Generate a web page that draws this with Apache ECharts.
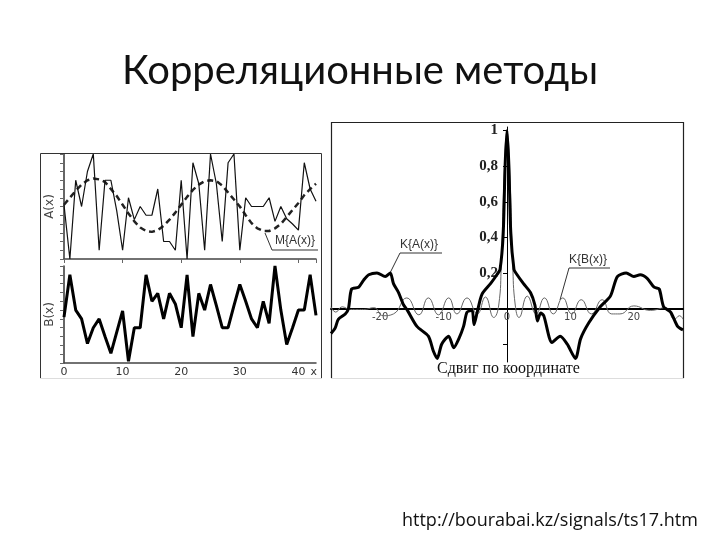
<!DOCTYPE html>
<html>
<head>
<meta charset="utf-8">
<script src="https://cdn.jsdelivr.net/npm/echarts@6/dist/echarts.min.js"></script>
<style>
  html, body { margin: 0; background: #fff; }
  #chart { width: 720px; height: 540px; }
</style>
</head>
<body>
<div id="chart"></div>
<script>
  // left panel: coordinate x, signal A, its trend M{A}, signal B
  const coordX = [0, 1, 2, 3, 4, 5, 6, 7, 8, 9, 10, 11, 12, 13, 14, 15, 16, 17, 18, 19, 20, 21,
    22, 23, 24, 25, 26, 27, 28, 29, 30, 31, 32, 33, 34, 35, 36, 37, 38, 39, 40, 41, 42, 43];
  const signalA = [6.2, 0, 9, 6, 10, 12, 1, 9, 9, 5.5, 1, 7, 4.5, 6, 5, 5, 8, 2, 2, 1, 9, 0,
    11, 8.6, 1, 12, 8.6, 2, 11, 12, 1, 7, 6, 6, 6, 7, 4.3, 6, 4.6, 4, 3.3, 11, 8, 6.6];
  const trendA = [6.2, 7.0, 7.8, 8.5, 9.0, 9.2, 9.1, 8.8, 8.0, 7.2, 6.2, 5.2, 4.3, 3.6, 3.2, 3.1, 3.3, 3.8, 4.5, 5.3, 6.2, 7.1,
    7.9, 8.5, 8.9, 9.0, 8.9, 8.4, 7.6, 6.8, 6.0, 5.0, 4.1, 3.5, 3.2, 3.2, 3.5, 4.0, 4.8, 5.6, 6.4, 7.3, 8.0, 8.6];
  const signalB = [5.2, 10, 6, 5, 2.2, 4, 5, 3, 1.1, 3.5, 5.9, 0.2, 4, 4, 10, 7, 7.9, 5, 7.9, 6.7, 4, 10,
    3, 7.9, 6, 8.9, 6.5, 4, 4, 6.5, 8.9, 7, 5, 4, 7, 4.5, 11, 6, 2.1, 4, 6, 6, 10, 5.4];
  const coordTicks = [0, 10, 20, 30, 40];

  // right panel: correlation functions vs shift
  const shiftKA = [-27.75, -27.1, -26.6, -25.5, -25, -24.5, -23.4, -22.6, -21.8, -20.5, -19.2, -18.4, -17.9, -17.1,
    -16.3, -15.7, -14.2, -12.4, -11.6, -11, -10.3, -9.2, -8.4, -7.6, -6.85, -6.3, -5.5, -5.2, -4.7, -3.95, -2.6,
    -1.6, -1.1, -0.6, -0.3, 0, 0.3, 0.6, 1.1, 1.4, 2.6, 3.7, 4.4, 4.8, 5.3, 5.8, 7.1, 8.4, 9.5, 10.8, 11.6, 12.9,
    14.7, 16.3, 17.4, 18.8, 20, 21, 22.1, 23.2, 24, 24.7, 25.8, 26.9, 27.75];
  const corrA = [-0.14, -0.11, -0.06, -0.03, 0, 0.11, 0.12, 0.16, 0.19, 0.2, 0.18, 0.2, 0.14, 0.09,
    0.02, -0.01, -0.1, -0.155, -0.24, -0.28, -0.2, -0.155, -0.22, -0.17, -0.1, -0.02, -0.01, -0.09, -0.02, 0.08, 0.14,
    0.19, 0.22, 0.42, 0.8, 1, 0.8, 0.42, 0.22, 0.2, 0.14, 0.09, 0.02, -0.07, -0.025, -0.04, -0.19, -0.155, -0.2, -0.28, -0.17, -0.08,
    0.01, 0.07, 0.18, 0.2, 0.18, 0.19, 0.17, 0.12, 0.11, 0.01, -0.02, -0.1, -0.12];
  const shiftKB = [-27.75, -27, -26, -24.7, -22.6, -21, -19.5, -17.9, -15.8, -13.9, -12.4, -10.8, -9.2, -7.9,
    -6.3, -4.7, -3.4, -2.1, -1.3, -0.9, -0.5, 0, 0.5, 0.9, 1.3, 1.9, 3.2, 4.6, 5.9, 7.3, 8.8, 10.2, 11.7, 13.3,
    15, 16.5, 17.8, 20, 22.6, 25, 26.4, 27.2, 27.75];
  const corrB = [0.01, -0.02, 0.01, -0.005, -0.005, 0.005, -0.04, -0.03, 0.06, -0.035, 0.06, -0.035, 0.06, -0.03,
    0.06, -0.03, 0.065, -0.05, 0.02, 0.25, 0.7, 1, 0.7, 0.25, 0.02, -0.05, 0.07, -0.03, 0.06, -0.03, 0.06, -0.03, 0.05, -0.03,
    0.05, -0.03, -0.03, 0.015, -0.01, 0.005, -0.06, -0.04, -0.06];
  const shiftTicks = [-20, -10, 0, 10, 20];
  const corrLabels = [0.2, 0.4, 0.6, 0.8, 1];
  const corrTicks = [-0.2, 0.2, 0.4, 0.6, 0.8, 1];

  const pairs = (xArr, yArr) => xArr.map((x, i) => [x, yArr[i]]);

  const chart = echarts.init(document.getElementById("chart"));

  const smallAxis = {
    axisLine: { lineStyle: { color: "#333", width: 1.5 } },
    axisTick: { lineStyle: { color: "#666" }, length: 4 },
    splitLine: { show: false },
    axisLabel: { show: false },
  };

  // right panel geometry: axes cross at shift 0 / correlation 0
  const kGrid = { left: 331, top: 127, width: 352, height: 235 };
  const kX = { min: -27.75, max: 27.75 };
  const kY = { min: -0.3, max: 1.02 };
  const yAxisShift = kGrid.width * (0 - kX.min) / (kX.max - kX.min);
  const xAxisShift = kGrid.height * (0 - kY.min) / (kY.max - kY.min);

  chart.setOption({
    animation: false,
    backgroundColor: "#fff",
    title: [
      {
        text: "Корреляционные методы",
        left: "center",
        top: 46,
        textStyle: { fontFamily: "Lato", fontSize: 40, fontWeight: "normal", color: "#111" },
      },
      {
        text: "http://bourabai.kz/signals/ts17.htm",
        left: 397,
        top: 507,
        textStyle: { fontFamily: "Open Sans", fontSize: 18, fontWeight: "normal", color: "#111" },
      },
    ],
    grid: [
      { left: 64, top: 154, width: 252, height: 105 },
      { left: 64, top: 266, width: 252, height: 97 },
      kGrid,
    ],
    xAxis: [
      { gridIndex: 0, type: "value", min: 0, max: 43, interval: 10, ...smallAxis,
        axisLine: { lineStyle: { color: "#444", width: 1.5 } } },
      { gridIndex: 1, type: "value", min: 0, max: 43, interval: 10, ...smallAxis,
        axisLine: { lineStyle: { color: "#444", width: 1.5 } },
        axisTick: { show: false },
        axisLabel: {
          show: true,
          customValues: coordTicks.concat([42.6]),
          formatter: (v) => (v > 41 ? "x" : String(v)),
          color: "#333",
          fontFamily: "DejaVu Sans",
          fontSize: 11,
          margin: 4,
        } },
      { gridIndex: 2, type: "value", min: kX.min, max: kX.max, position: "bottom", offset: -xAxisShift,
        axisLine: { onZero: false, lineStyle: { color: "#000", width: 2 } },
        axisTick: { show: false },
        splitLine: { show: false },
        axisLabel: {
          customValues: shiftTicks,
          color: "#444",
          fontFamily: "DejaVu Sans",
          fontSize: 10,
          margin: 4,
        } },
    ],
    yAxis: [
      { gridIndex: 0, type: "value", min: 0, max: 12, interval: 1, ...smallAxis,
        name: "A(x)", nameLocation: "middle", nameGap: 8, nameRotate: 90,
        nameTextStyle: { color: "#444", fontFamily: "DejaVu Sans", fontSize: 12 } },
      { gridIndex: 1, type: "value", min: 0, max: 11, interval: 1, ...smallAxis,
        name: "B(x)", nameLocation: "middle", nameGap: 8, nameRotate: 90,
        nameTextStyle: { color: "#444", fontFamily: "DejaVu Sans", fontSize: 12 } },
      { gridIndex: 2, type: "value", min: kY.min, max: kY.max, position: "left", offset: -yAxisShift,
        axisLine: { onZero: false, lineStyle: { color: "#000", width: 1 } },
        axisTick: { customValues: corrTicks, length: 4, lineStyle: { color: "#000" } },
        splitLine: { show: false },
        axisLabel: {
          customValues: corrLabels,
          formatter: (v) => String(v).replace(".", ","),
          color: "#222",
          fontFamily: "Liberation Serif",
          fontWeight: "bold",
          fontSize: 15,
          margin: 9,
        } },
    ],
    series: [
      { type: "line", xAxisIndex: 0, yAxisIndex: 0, data: pairs(coordX, trendA), symbol: "none",
        lineStyle: { color: "#222", width: 2.5, type: [6, 4] } },
      { type: "line", xAxisIndex: 0, yAxisIndex: 0, data: pairs(coordX, signalA), symbol: "none",
        lineStyle: { color: "#111", width: 1.2 } },
      { type: "line", xAxisIndex: 1, yAxisIndex: 1, data: pairs(coordX, signalB), symbol: "none",
        lineStyle: { color: "#000", width: 3 } },
      { type: "line", xAxisIndex: 2, yAxisIndex: 2, data: pairs(shiftKB, corrB), symbol: "none", smooth: 0.5,
        lineStyle: { color: "#666", width: 1 } },
      { type: "line", xAxisIndex: 2, yAxisIndex: 2, data: pairs(shiftKA, corrA), symbol: "none", smooth: 0.25,
        lineStyle: { color: "#000", width: 3 } },
    ],
    graphic: [
      // panel frames
      { type: "polyline", shape: { points: [[40.5, 378], [40.5, 153.5], [321.5, 153.5], [321.5, 378]] },
        style: { stroke: "#333", lineWidth: 1, fill: null } },
      { type: "line", shape: { x1: 40, y1: 378.5, x2: 322, y2: 378.5 }, style: { stroke: "#ddd", lineWidth: 1 } },
      { type: "polyline", shape: { points: [[331.5, 378], [331.5, 122.5], [683.5, 122.5], [683.5, 378]] },
        style: { stroke: "#222", lineWidth: 1.2, fill: null } },
      { type: "line", shape: { x1: 331, y1: 378.5, x2: 684, y2: 378.5 }, style: { stroke: "#ddd", lineWidth: 1 } },
      // M{A(x)} callout
      { type: "polyline", shape: { points: [[265, 233], [272, 250], [318, 250]] },
        style: { stroke: "#333", lineWidth: 1, fill: null } },
      { type: "text", left: 275, top: 235,
        style: { text: "M{A(x)}", fill: "#333", font: "12px 'Liberation Sans'" } },
      // K{A(x)} callout
      { type: "polyline", shape: { points: [[390, 273], [400, 253], [442, 253]] },
        style: { stroke: "#333", lineWidth: 1, fill: null } },
      { type: "text", left: 400, top: 239,
        style: { text: "K{A(x)}", fill: "#333", font: "12px 'Liberation Sans'" } },
      // K{B(x)} callout
      { type: "polyline", shape: { points: [[560, 300], [569, 268], [610, 268]] },
        style: { stroke: "#333", lineWidth: 1, fill: null } },
      { type: "text", left: 569, top: 254,
        style: { text: "K{B(x)}", fill: "#333", font: "12px 'Liberation Sans'" } },
      // x-axis caption of the right panel
      { type: "text", left: 437, top: 361,
        style: { text: "Сдвиг по координате", fill: "#111", font: "16px 'Liberation Serif'" } },
    ],
  });
</script>
</body>
</html>
